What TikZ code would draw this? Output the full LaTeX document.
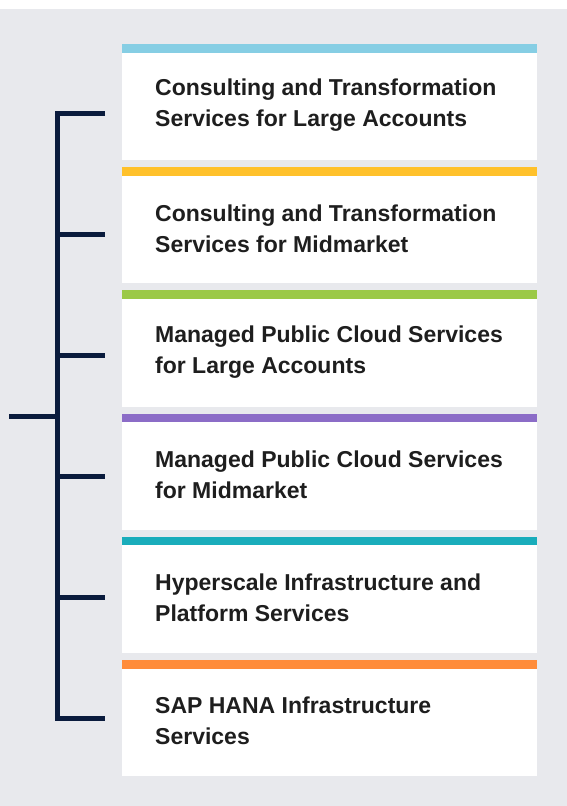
\documentclass[tikz,border=0pt]{standalone}
\usepackage{fontspec}
\setmainfont{Liberation Sans}
\definecolor{bggray}{HTML}{E8E9ED}
\definecolor{navy}{HTML}{0A1B3D}
\definecolor{txt}{HTML}{1E1E1E}
\definecolor{cA}{HTML}{86CEE4}
\definecolor{cB}{HTML}{FFC12B}
\definecolor{cC}{HTML}{9BC947}
\definecolor{cD}{HTML}{8B6CC7}
\definecolor{cE}{HTML}{1AADBB}
\definecolor{cF}{HTML}{FF8C3A}
\begin{document}
\begin{tikzpicture}[x=1pt,y=-1pt,
  boxbg/.style={fill=white,draw=none,inner sep=0pt,minimum width=415pt,minimum height=116pt,anchor=north west},
  label/.style={anchor=west,align=left,inner sep=0pt,text=txt,font=\bfseries\fontsize{23}{31}\selectfont},
  brack/.style={draw=navy,line width=5pt}]
\useasboundingbox (0,0) rectangle (567,806);
\fill[white] (0,0) rectangle (567,806);
\fill[bggray] (0,9) rectangle (567,806);
\foreach \i/\c/\t in {
  1/cA/{Consulting and Transformation\\Services for Large Accounts},
  2/cB/{Consulting and Transformation\\Services for Midmarket},
  3/cC/{Managed Public Cloud Services\\for Large Accounts},
  4/cD/{Managed Public Cloud Services\\for Midmarket},
  5/cE/{Hyperscale Infrastructure and\\Platform Services},
  6/cF/{SAP HANA Infrastructure\\Services}}{
  \pgfmathsetmacro{\top}{44+123.2*(\i-1)}
  \node[boxbg] (box\i) at (122,\top) {};
  \fill[\c] (box\i.north west) rectangle ([yshift=-8.5pt]box\i.north east);
  \node[label] (lab\i) at ([xshift=33pt,yshift=-3pt]box\i.west) {\t};
  \pgfmathsetmacro{\ty}{113+121*(\i-1)}
  \coordinate (tickL\i) at (57,\ty);
  \coordinate (tickR\i) at (105,\ty);
}
\coordinate (stub) at (9,416);
\coordinate (stubR) at (57,416);
\draw[brack,line join=miter] (tickR1) -- (tickL1) -- (tickL6) -- (tickR6);
\foreach \i in {2,...,5}{\draw[brack] (tickL\i) -- (tickR\i);}
\draw[brack] (stub) -- (stubR);
\end{tikzpicture}
\end{document}
